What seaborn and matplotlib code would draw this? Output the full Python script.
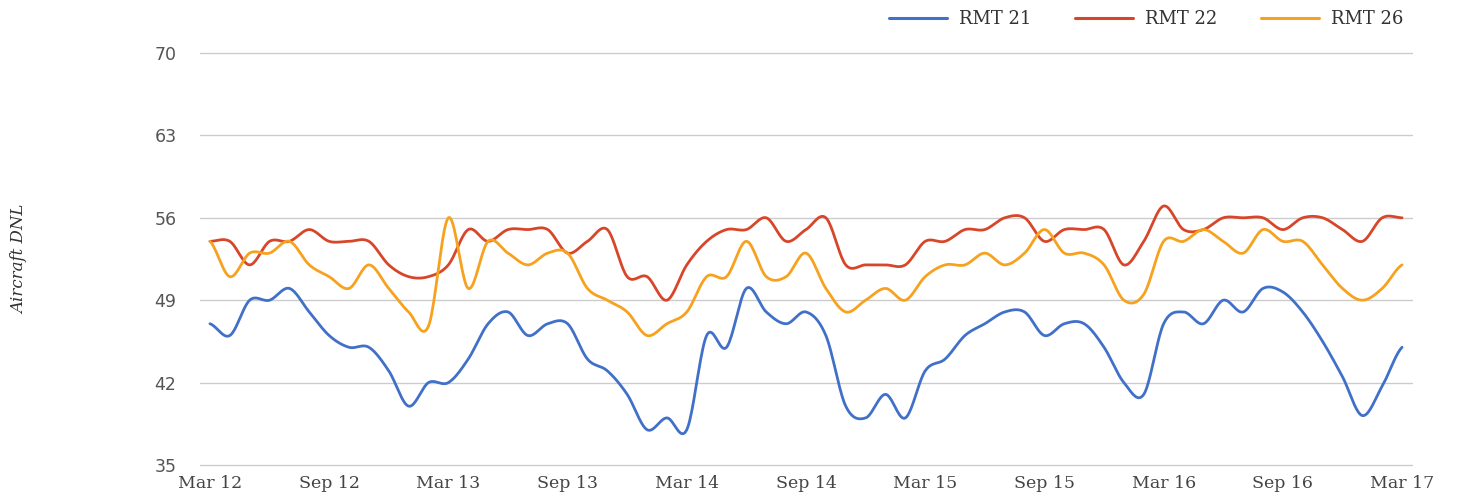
import numpy as np
import pandas as pd
import matplotlib
matplotlib.use("Agg")
import matplotlib.pyplot as plt
import seaborn as sns

# Monthly aircraft DNL readings, Mar 2012 - Mar 2017
month_names = ["Jan", "Feb", "Mar", "Apr", "May", "Jun",
               "Jul", "Aug", "Sep", "Oct", "Nov", "Dec"]
months = [f"{month_names[(2 + k) % 12]} {12 + (2 + k) // 12}" for k in range(61)]

rmt21 = [47, 46, 49, 49, 50, 48, 46, 45, 45, 43, 40,
         42, 42, 44, 47, 48, 46, 47, 47, 44, 43,
         41, 38, 39, 38, 46, 45, 50, 48, 47, 48,
         46, 40, 39, 41, 39, 43, 44, 46, 47, 48,
         48, 46, 47, 47, 45, 42, 41, 47, 48, 47,
         49, 48, 50, 49.7, 48, 45.5, 42.5, 39.2, 41.7, 45]
rmt22 = [54, 54, 52, 54, 54, 55, 54, 54, 54, 52, 51,
         51, 52, 55, 54, 55, 55, 55, 53, 54, 55,
         51, 51, 49, 52, 54, 55, 55, 56, 54, 55,
         56, 52, 52, 52, 52, 54, 54, 55, 55, 56,
         56, 54, 55, 55, 55, 52, 54, 57, 55, 55,
         56, 56, 56, 55, 56, 56, 55, 54, 56, 56]
rmt26 = [54, 51, 53, 53, 54, 52, 51, 50, 52, 50, 48,
         46.8, 56, 50, 54, 53, 52, 53, 53, 50, 49,
         48, 46, 47, 48, 51, 51, 54, 51, 51, 53,
         50, 48, 49, 50, 49, 51, 52, 52, 53, 52,
         53, 55, 53, 53, 52, 49, 49.5, 54, 54, 55,
         54, 53, 55, 54, 54, 52, 50, 49, 50, 52]

series_names = ["RMT 21", "RMT 22", "RMT 26"]
series_values = [rmt21, rmt22, rmt26]
colors = ["#4170c9", "#d8462a", "#f7a21f"]
y_ticks = [35, 42, 49, 56, 63, 70]


def smooth(values, steps=20):
    """Catmull-Rom curve through every monthly point."""
    v = np.asarray(values, dtype=float)
    p = np.concatenate([[v[0]], v, [v[-1]]])
    xs, ys = [], []
    t = np.linspace(0, 1, steps, endpoint=False)
    for i in range(len(v) - 1):
        p0, p1, p2, p3 = p[i], p[i + 1], p[i + 2], p[i + 3]
        seg = 0.5 * ((2 * p1) + (-p0 + p2) * t
                     + (2 * p0 - 5 * p1 + 4 * p2 - p3) * t ** 2
                     + (-p0 + 3 * p1 - 3 * p2 + p3) * t ** 3)
        xs.extend(i + t)
        ys.extend(seg)
    xs.append(len(v) - 1)
    ys.append(v[-1])
    return np.array(xs), np.array(ys)


frames = []
for name, vals in zip(series_names, series_values):
    xs, ys = smooth(vals)
    frames.append(pd.DataFrame({"month": xs, "DNL": ys, "site": name}))
df = pd.concat(frames, ignore_index=True)

sns.set_theme(style="white")
plt.rcParams["font.family"] = ["DejaVu Sans"]

fig = plt.figure(figsize=(14.61, 4.98), dpi=100)
ax = fig.add_axes([200 / 1461, 1 - 465 / 498, 1212 / 1461, 412 / 498])

sns.lineplot(data=df, x="month", y="DNL", hue="site", palette=colors,
             linewidth=2.0, ax=ax, legend=False, sort=False)

ax.set_xlim(-0.5, 60.5)
ax.set_ylim(35, 70)
ax.set_yticks(y_ticks)
ax.set_yticklabels([str(t) for t in y_ticks], color="#555555", fontsize=12.5)
tick_pos = list(range(0, 61, 6))
ax.set_xticks(tick_pos)
ax.set_xticklabels([months[i] for i in tick_pos], color="#444444", fontsize=12.5,
                   family="DejaVu Serif")
ax.tick_params(axis="y", length=0, pad=17)
ax.tick_params(axis="x", length=0, pad=7)
ax.grid(axis="y", color="#cccccc", linewidth=1)
ax.grid(axis="x", visible=False)
for line in ax.get_ygridlines():
    line.set_clip_on(False)
for s in ax.spines.values():
    s.set_visible(False)
ax.set_axisbelow(True)

ax.set_xlabel("")
ax.set_ylabel("Aircraft DNL", fontsize=12, style="italic", family="DejaVu Serif",
              color="#333333")
ax.yaxis.set_label_coords(-0.142, 0.5)

handles = [plt.Line2D([], [], color=c, linewidth=2.2) for c in colors]
fig.legend(handles, series_names, loc="upper right", ncol=3,
           bbox_to_anchor=(1420 / 1461, 1.012), frameon=False,
           prop={"family": "DejaVu Serif", "size": 13},
           labelcolor="#333333", handlelength=3.2, columnspacing=2.4,
           handletextpad=0.7)

fig.savefig("out.png", dpi=100, facecolor="white")
